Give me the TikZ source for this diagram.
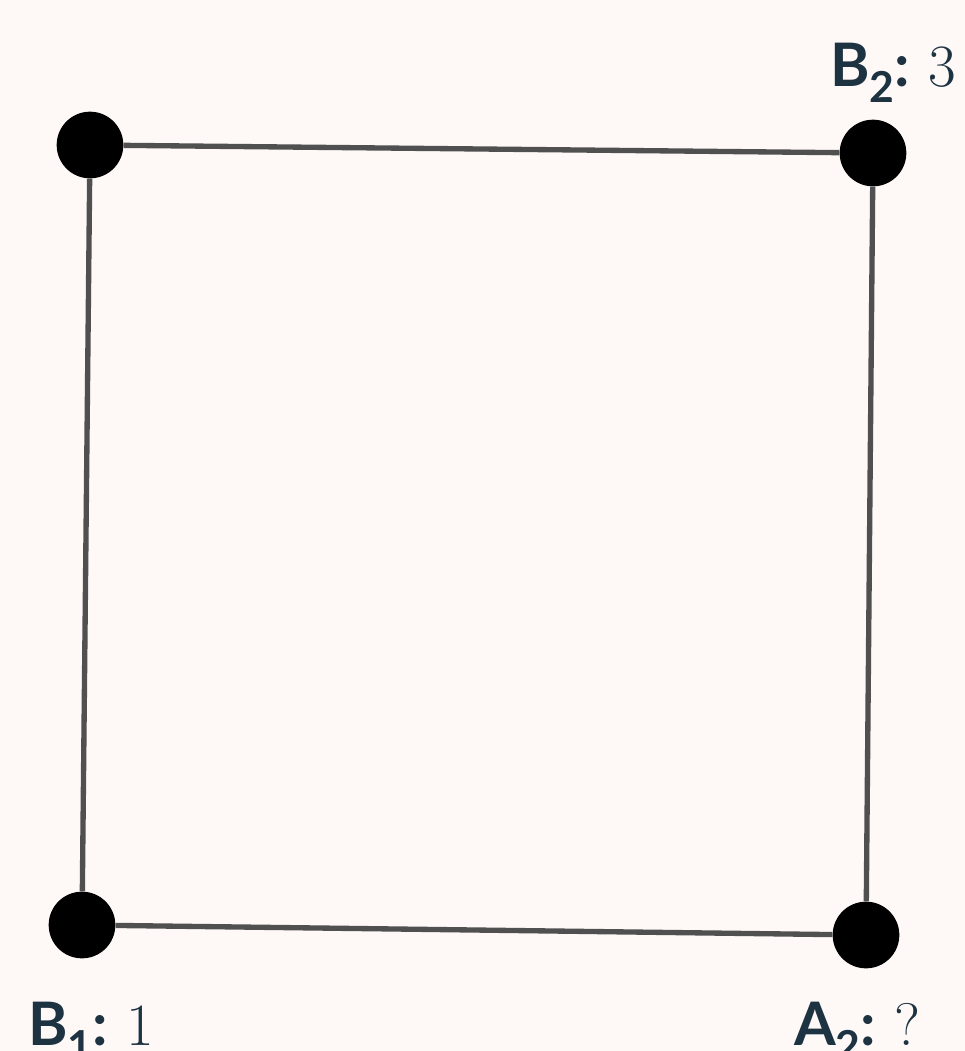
\documentclass[tikz,border=0pt]{standalone}
\usepackage{fontspec}
\newfontfamily\labfont{Lato}
\definecolor{bg}{HTML}{FEF9F7}
\definecolor{ink}{HTML}{1E3342}
\definecolor{edge}{HTML}{505050}
\begin{document}
\begin{tikzpicture}[x=0.75pt,y=-0.75pt,
  vertex/.style={circle,fill=black,inner sep=0pt,minimum size=50pt},
  edgeline/.style={draw=edge,line width=4pt},
  lab/.style={anchor=base west,inner sep=0pt,text=ink,font=\fontsize{45}{49}\selectfont}]
\fill[bg] (0,0) rectangle (965,1051);
\useasboundingbox (0,0) rectangle (965,1051);
\node[vertex] (tl) at (90,145) {};
\node[vertex] (tr) at (873,153) {};
\node[vertex] (bl) at (82,925) {};
\node[vertex] (br) at (866,935) {};
\draw[edgeline] (tl) -- (tr) -- (br) -- (bl) -- (tl);
\newcommand\vlab[3]{{\labfont\bfseries #1\raisebox{-0.28em}{\fontsize{32}{34}\selectfont #2}:}\ #3}
\node[lab] (lb2) at (830,86) {\vlab{B}{2}{3}};
\node[lab] (lb1) at (28,1045) {\vlab{B}{1}{1}};
\node[lab] (la2) at (794,1045) {\vlab{A}{2}{?}};
\end{tikzpicture}
\end{document}
